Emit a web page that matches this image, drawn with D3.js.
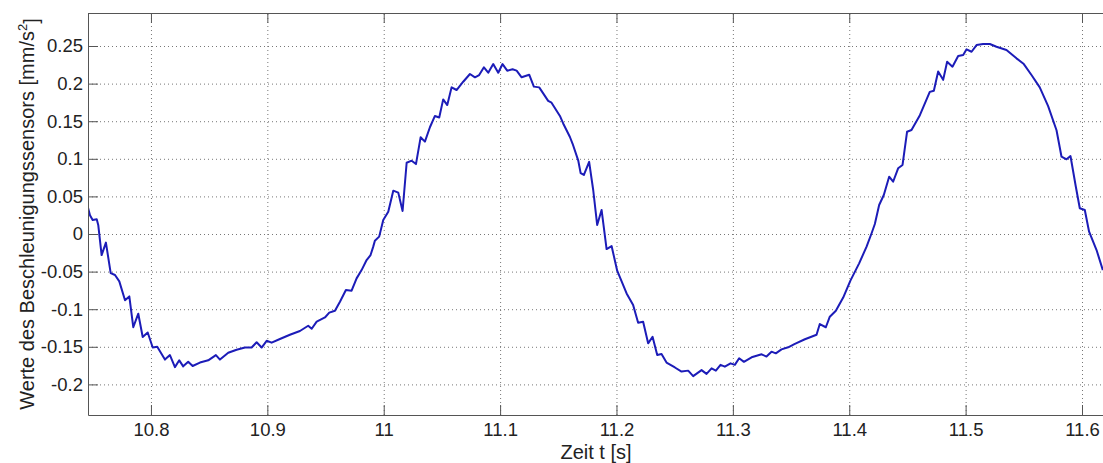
<!DOCTYPE html>
<html>
<head>
<meta charset="utf-8">
<script src="https://cdn.jsdelivr.net/npm/d3@7"></script>
<style>
  body { margin: 0; background: #fff; }
  svg { display: block; font-family: "Liberation Sans", Arial, sans-serif; }
</style>
</head>
<body>
<div class="chart"></div>
<script>
// sample times [s]
const times = [
  10.7453, 10.7476, 10.7499, 10.7534, 10.7547, 10.7576, 10.7613, 10.7654, 10.7691, 10.7728,
  10.7777, 10.7814, 10.7848, 10.7891, 10.7929, 10.7972, 10.8015, 10.8054, 10.812, 10.8163,
  10.8206, 10.8243, 10.8277, 10.832, 10.8358, 10.8421, 10.8492, 10.8558, 10.8593, 10.8664,
  10.8736, 10.8808, 10.8865, 10.8908, 10.8951, 10.8994, 10.9037, 10.9108, 10.9194, 10.928,
  10.9351, 10.9381, 10.9424, 10.9495, 10.9532, 10.9581, 10.9624, 10.9675, 10.9724, 10.9767,
  10.981, 10.9853, 10.9887, 10.991, 10.9924, 10.9961, 10.9996, 11.0039, 11.0082, 11.0125,
  11.0162, 11.0197, 11.024, 11.0277, 11.0317, 11.0354, 11.0397, 11.044, 11.0477, 11.0511,
  11.0546, 11.0583, 11.0626, 11.0683, 11.0741, 11.0784, 11.082, 11.0861, 11.0898, 11.0941,
  11.0984, 11.1021, 11.1061, 11.1107, 11.1142, 11.1185, 11.125, 11.129, 11.1336, 11.1413,
  11.1442, 11.1514, 11.1542, 11.16, 11.1623, 11.1671, 11.1692, 11.172, 11.1765, 11.18,
  11.1834, 11.1872, 11.1915, 11.1958, 11.2006, 11.2087, 11.2143, 11.2186, 11.2229, 11.2272,
  11.231, 11.235, 11.2387, 11.243, 11.2502, 11.2559, 11.2616, 11.2659, 11.2731, 11.2774,
  11.2817, 11.2854, 11.2894, 11.2931, 11.298, 11.3017, 11.3054, 11.3095, 11.3161, 11.3247,
  11.3289, 11.3332, 11.3369, 11.3418, 11.3475, 11.3533, 11.3619, 11.3719, 11.3747, 11.3799,
  11.3833, 11.3885, 11.3948, 11.401, 11.4085, 11.4149, 11.4192, 11.422, 11.4257, 11.4297,
  11.4343, 11.4377, 11.442, 11.4458, 11.4497, 11.4535, 11.4607, 11.4692, 11.4727, 11.4764,
  11.4807, 11.4841, 11.4887, 11.4936, 11.4979, 11.5008, 11.5051, 11.5094, 11.515, 11.5208,
  11.5265, 11.5351, 11.5437, 11.55, 11.5566, 11.5637, 11.5709, 11.5781, 11.5824, 11.5867,
  11.5901, 11.5947, 11.5981, 11.6024, 11.6061, 11.6125, 11.6179
];

// sensor values [mm/s^2]
const values = [
  0.0386, 0.025, 0.0186, 0.0195, 0.012, -0.028, -0.0115, -0.052, -0.0545, -0.063,
  -0.088, -0.083, -0.124, -0.106, -0.137, -0.131, -0.151, -0.150, -0.167, -0.161,
  -0.177, -0.168, -0.176, -0.170, -0.1755, -0.171, -0.168, -0.161, -0.167, -0.158,
  -0.154, -0.151, -0.151, -0.144, -0.151, -0.142, -0.1445, -0.1396, -0.134, -0.129,
  -0.122, -0.126, -0.1166, -0.111, -0.1046, -0.102, -0.090, -0.0745, -0.0754, -0.059,
  -0.048, -0.0346, -0.028, -0.0168, -0.0089, -0.0035, 0.0186, 0.0297, 0.0576, 0.055,
  0.0306, 0.0948, 0.0975, 0.093, 0.1286, 0.1228, 0.142, 0.157, 0.155, 0.179,
  0.1715, 0.195, 0.1915, 0.2025, 0.2128, 0.2084, 0.2114, 0.2217, 0.2145, 0.226,
  0.2145, 0.226, 0.2172, 0.219, 0.2172, 0.2084, 0.2118, 0.196, 0.195, 0.177,
  0.1746, 0.157, 0.147, 0.129, 0.12, 0.098, 0.081, 0.0785, 0.096, 0.0585,
  0.012, 0.032, -0.02, -0.016, -0.0488, -0.079, -0.0944, -0.118, -0.1166, -0.1454,
  -0.1366, -0.161, -0.1596, -0.171, -0.1775, -0.183, -0.1817, -0.189, -0.181, -0.186,
  -0.1787, -0.1817, -0.174, -0.1764, -0.172, -0.174, -0.1653, -0.17, -0.164, -0.160,
  -0.163, -0.1565, -0.1587, -0.1534, -0.1507, -0.146, -0.140, -0.134, -0.1197, -0.124,
  -0.11, -0.102, -0.0845, -0.062, -0.039, -0.0168, 0.001, 0.0133, 0.0386, 0.0519,
  0.0762, 0.0695, 0.0874, 0.0918, 0.136, 0.1383, 0.158, 0.189, 0.1906, 0.216,
  0.205, 0.229, 0.2225, 0.2367, 0.238, 0.2456, 0.2424, 0.2513, 0.2527, 0.2527,
  0.249, 0.2447, 0.2336, 0.226, 0.2114, 0.195, 0.170, 0.138, 0.1028, 0.0993,
  0.1037, 0.0629, 0.0342, 0.0319, 0.003, -0.0213, -0.048
];

const xTicks = [10.8, 10.9, 11, 11.1, 11.2, 11.3, 11.4, 11.5, 11.6];
const yTicks = [-0.2, -0.15, -0.1, -0.05, 0, 0.05, 0.1, 0.15, 0.2, 0.25];

const width = 1103, height = 463;
const margin = { left: 88, top: 13, right: -1, bottom: 48 };
const plotW = width - margin.left - margin.right;
const plotH = height - margin.top - margin.bottom;

const x = d3.scaleLinear().domain([10.7459, 11.6189]).range([0, plotW]);
const y = d3.scaleLinear().domain([-0.2407, 0.2939]).range([plotH, 0]);

const svg = d3.select(".chart").append("svg")
  .attr("width", width)
  .attr("height", height);

svg.append("defs").append("clipPath").attr("id", "clip")
  .append("rect").attr("width", plotW).attr("height", plotH);

const g = svg.append("g").attr("transform", `translate(${margin.left},${margin.top})`);

// dotted grid
g.append("g")
  .attr("class", "grid")
  .attr("transform", `translate(0,${plotH})`)
  .call(d3.axisBottom(x).tickValues(xTicks).tickSize(-plotH).tickFormat(""))
  .call(s => s.select(".domain").remove());
g.append("g")
  .attr("class", "grid")
  .call(d3.axisLeft(y).tickValues(yTicks).tickSize(-plotW).tickFormat(""))
  .call(s => s.select(".domain").remove());
g.selectAll(".grid line")
  .attr("stroke", "#777")
  .attr("stroke-width", 1)
  .attr("stroke-dasharray", "1,3");

// signal
const line = d3.line()
  .x(i => x(times[i]))
  .y(i => y(values[i]));

g.append("path")
  .datum(d3.range(times.length))
  .attr("clip-path", "url(#clip)")
  .attr("fill", "none")
  .attr("stroke", "#1c1cb8")
  .attr("stroke-width", 2)
  .attr("stroke-linejoin", "round")
  .attr("d", line);

// axes, ticks pointing inward like matlab
const fmt = d => String(+d.toFixed(2));

const xAxis = g.append("g")
  .attr("transform", `translate(0,${plotH})`)
  .call(d3.axisBottom(x).tickValues(xTicks).tickSizeInner(-10).tickSizeOuter(0).tickPadding(8).tickFormat(fmt));
g.append("g")
  .call(d3.axisTop(x).tickValues(xTicks).tickSizeInner(-10).tickSizeOuter(0).tickFormat(""));
const yAxis = g.append("g")
  .call(d3.axisLeft(y).tickValues(yTicks).tickSizeInner(-10).tickSizeOuter(0).tickPadding(5).tickFormat(fmt));

g.selectAll(".domain, .tick line").attr("stroke", "#555").attr("stroke-width", 1);
g.selectAll(".grid line").attr("stroke", "#777");
g.selectAll(".tick text")
  .attr("fill", "#222")
  .style("font-size", "18.5px")
  .style("font-family", "'Liberation Sans', Arial, sans-serif");

// frame top line
g.append("line")
  .attr("x1", 0).attr("x2", plotW)
  .attr("y1", 0.5).attr("y2", 0.5)
  .attr("stroke", "#555");

// axis labels
svg.append("text")
  .attr("x", margin.left + plotW / 2)
  .attr("y", 459)
  .attr("text-anchor", "middle")
  .attr("fill", "#222")
  .style("font-size", "20px")
  .text("Zeit t [s]");

const yLabel = svg.append("text")
  .attr("transform", `translate(34,${margin.top + plotH / 2}) rotate(-90)`)
  .attr("text-anchor", "middle")
  .attr("fill", "#222")
  .style("font-size", "20px");
yLabel.append("tspan").text("Werte des Beschleunigungssensors [mm/s");
yLabel.append("tspan").attr("dy", "-0.55em").style("font-size", "13px").text("2");
yLabel.append("tspan").attr("dy", "0.55em").text("]");
</script>
</body>
</html>
